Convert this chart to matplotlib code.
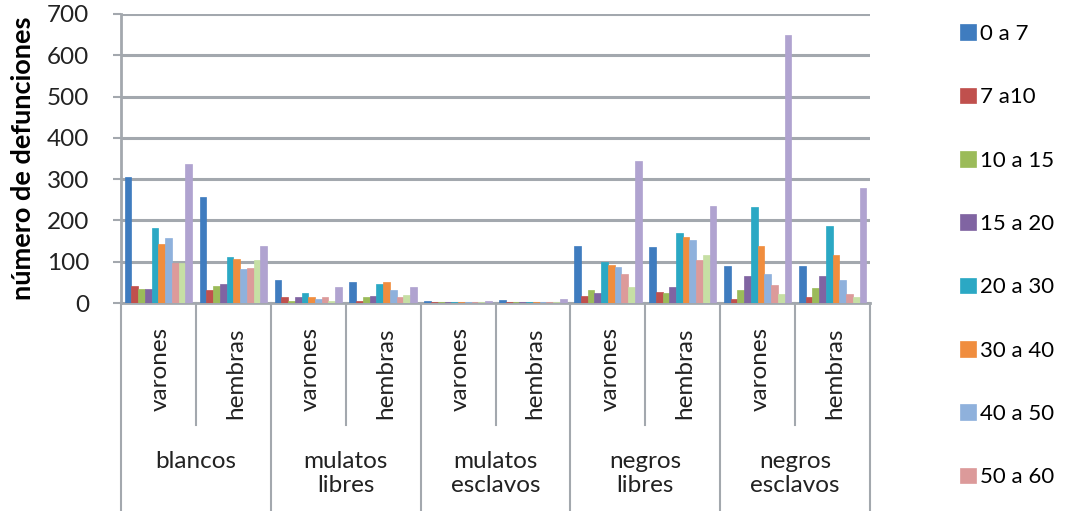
import matplotlib.pyplot as plt
import numpy as np

plt.rcParams['font.family'] = ['Lato', 'DejaVu Sans']

# subcategorias (raza/condicion x sexo)
grupos = ['blancos', 'mulatos\nlibres', 'mulatos\nesclavos', 'negros\nlibres', 'negros\nesclavos']
sexos = ['varones', 'hembras']

# defunciones por grupo de edad (orden: bv, bh, mlv, mlh, mev, meh, nlv, nlh, nev, neh)
edad_0_7 = [305, 257, 56, 50, 4, 8, 137, 135, 90, 90]
edad_7_10 = [40, 31, 15, 4, 2, 2, 18, 26, 10, 14]
edad_10_15 = [34, 40, 6, 15, 2, 2, 31, 24, 32, 36]
edad_15_20 = [34, 46, 14, 16, 2, 2, 24, 38, 65, 65]
edad_20_30 = [181, 111, 24, 46, 3, 3, 99, 169, 232, 187]
edad_30_40 = [143, 106, 15, 50, 3, 2, 91, 160, 137, 117]
edad_40_50 = [157, 82, 10, 31, 2, 2, 86, 152, 70, 55]
edad_50_60 = [97, 84, 14, 14, 2, 2, 70, 105, 43, 23]
edad_60_mas = [97, 105, 6, 20, 2, 2, 39, 117, 23, 14]
edad_otros = [337, 137, 39, 39, 6, 10, 345, 235, 648, 278]

series = [edad_0_7, edad_7_10, edad_10_15, edad_15_20, edad_20_30,
          edad_30_40, edad_40_50, edad_50_60, edad_60_mas, edad_otros]
etiquetas = ['0 a 7', '7 a10', '10 a 15', '15 a 20', '20 a 30',
             '30 a 40', '40 a 50', '50 a 60', '60 a 80', 'más de 80']
colores = ['#3f7cbf', '#c0504d', '#9bbb59', '#8064a2', '#2ba8c4',
           '#f08d3e', '#8fb1dc', '#dc9a9a', '#c6dfa4', '#b0a3d0']

fs = 17.5
fig = plt.figure(figsize=(10.67, 5.11), dpi=100)
ax = fig.add_axes([121 / 1067, 1 - 303 / 511, (870 - 121) / 1067, (303 - 14) / 511])

n_sub = len(grupos) * len(sexos)
x = np.arange(n_sub)
w = 0.09
handles = []
for i, (vals, lab, col) in enumerate(zip(series, etiquetas, colores)):
    b = ax.bar(x + (i - 4.5) * w, vals, w, color=col, label=lab,
               edgecolor=col, linewidth=0.5, zorder=3)
    handles.append(b)

ax.set_xlim(-0.5, n_sub - 0.5)
ax.set_ylim(0, 700)
ax.set_yticks(range(0, 701, 100))
ax.yaxis.grid(True, color='#a3a8ae', linewidth=2.2, zorder=0)
ax.set_axisbelow(True)
for s in ['top', 'right']:
    ax.spines[s].set_visible(False)
ax.spines['left'].set_color('#a3a8ae')
ax.spines['left'].set_linewidth(2)
ax.spines['bottom'].set_color('#a3a8ae')
ax.spines['bottom'].set_linewidth(2)
ax.tick_params(axis='y', length=6, width=1.5, color='#a3a8ae', pad=17,
               labelsize=fs, labelcolor='#222222')
ax.set_ylabel('número de defunciones', fontsize=19.5, fontweight='bold')
ax.yaxis.set_label_coords((35 - 121) / 749, 0.5)

# eje de categorias en dos niveles
ax.set_xticks([])
trans = ax.get_xaxis_transform()
px = 1 / (303 - 14)  # un pixel en fraccion de ejes
for k in range(n_sub):
    ax.text(k + 0.03, -24 * px, sexos[k % 2], rotation=90, ha='center', va='top',
            fontsize=fs, color='#222222', transform=trans)
for k in range(n_sub + 1):
    largo = 303 if k % 2 == 0 else 122
    ax.plot([k - 0.5, k - 0.5], [0, -largo * px], color='#a3a8ae',
            linewidth=1.5, transform=trans, clip_on=False)
for g, nombre in enumerate(grupos):
    ax.text(2 * g + 0.5, -148 * px, nombre, ha='center', va='top',
            fontsize=fs, color='#222222', linespacing=1.15, transform=trans)

fig.legend(handles[:8], etiquetas[:8], loc='upper left',
           bbox_to_anchor=(960 / 1067, 1 - 24 / 511), frameon=False,
           fontsize=16, handlelength=0.7, handleheight=0.7,
           handletextpad=0.2, labelspacing=1.95, borderaxespad=0,
           borderpad=0)

fig.savefig('out.png', dpi=100)
